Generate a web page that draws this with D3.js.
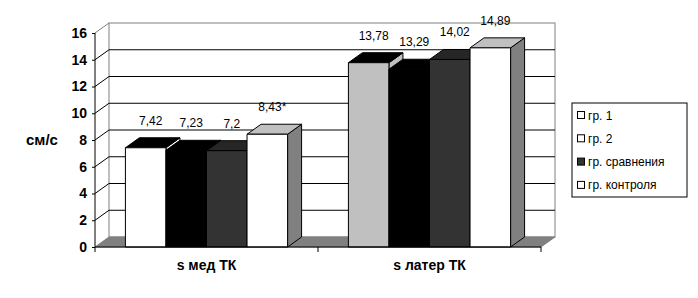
<!DOCTYPE html>
<html>
<head>
<meta charset="utf-8">
<script src="https://cdn.jsdelivr.net/npm/d3@7/dist/d3.min.js"></script>
<style>
  body { margin: 0; background: #fff; }
  svg { display: block; font-family: Arial, "Liberation Sans", sans-serif; }
</style>
</head>
<body>
<div id="chart"></div>
<script>
"use strict";

// data
const categories = ["s мед ТК", "s латер ТК"];
const seriesNames = ["гр. 1", "гр. 2", "гр. сравнения", "гр. контроля"];
const gr1 = [7.42, 13.78];
const gr2 = [7.23, 13.29];
const grCompare = [7.2, 14.02];
const grControl = [8.43, 14.89];
const controlMarks = ["*", ""];
const yTicks = [0, 2, 4, 6, 8, 10, 12, 14, 16];
const yTitle = "см/с";

const series = [gr1, gr2, grCompare, grControl];
const marks = [["", ""], ["", ""], ["", ""], controlMarks];

// face colours (front / top / side) per series, per category
const faces = [
    [{ front: "#ffffff", top: "#000000", side: "#ffffff" }, { front: "#c0c0c0", top: "#000000", side: "#c0c0c0" }],
    [{ front: "#000000", top: "#000000", side: "#000000" }, { front: "#000000", top: "#000000", side: "#000000" }],
    [{ front: "#333333", top: "#262626", side: "#333333" }, { front: "#333333", top: "#262626", side: "#333333" }],
    [{ front: "#ffffff", top: "#c0c0c0", side: "#808080" }, { front: "#ffffff", top: "#c0c0c0", side: "#808080" }]
];
const legendSwatch = ["#ffffff", "#ffffff", "#333333", "#ffffff"];

const width = 698, height = 298;
const plotLeft = 95, plotRight = 541, plotBottom = 247, plotTop = 33;
const dx = 14, dy = -10; // depth offset

const svg = d3.select("#chart").append("svg")
    .attr("width", width)
    .attr("height", height);

const x = d3.scaleBand().domain(categories).range([plotLeft, plotRight]);
const xs = d3.scaleBand().domain(seriesNames).range([0, x.bandwidth()])
    .paddingInner(0).paddingOuter(0.75);
const y = d3.scaleLinear().domain([0, 16]).range([plotBottom, plotTop]);

const pts = p => p.map(d => d.join(",")).join(" ");

// back wall
svg.append("rect")
    .attr("x", plotLeft + dx).attr("y", y(16) + dy)
    .attr("width", plotRight - plotLeft).attr("height", y(0) - y(16))
    .attr("fill", "#fff").attr("stroke", "#808080");

// left wall outline (top edge)
svg.append("line")
    .attr("x1", plotLeft).attr("y1", y(16))
    .attr("x2", plotLeft + dx).attr("y2", y(16) + dy)
    .attr("stroke", "#808080");

// gridlines: left wall diagonal + back wall horizontal
const grid = svg.append("g").attr("stroke", "#000").attr("fill", "none");
yTicks.filter(t => t > 0 && t < 16).forEach(t => {
    grid.append("polyline")
        .attr("points", pts([[plotLeft, y(t)], [plotLeft + dx, y(t) + dy], [plotRight + dx, y(t) + dy]]));
});

// floor
svg.append("polygon")
    .attr("points", pts([[plotLeft, y(0)], [plotRight, y(0)], [plotRight + dx, y(0) + dy], [plotLeft + dx, y(0) + dy]]))
    .attr("fill", "#808080").attr("stroke", "#808080");

// bars
const barsG = svg.append("g").attr("stroke", "#000").attr("stroke-width", 1).attr("stroke-linejoin", "round");
categories.forEach((cat, ci) => {
    seriesNames.forEach((name, si) => {
        const v = series[si][ci];
        const x0 = x(cat) + xs(name), x1 = x0 + xs.bandwidth();
        const y0 = y(0), y1 = y(v);
        const c = faces[si][ci];
        barsG.append("polygon").attr("fill", c.side)
            .attr("points", pts([[x1, y0], [x1 + dx, y0 + dy], [x1 + dx, y1 + dy], [x1, y1]]));
        barsG.append("polygon").attr("fill", c.top)
            .attr("points", pts([[x0, y1], [x1, y1], [x1 + dx, y1 + dy], [x0 + dx, y1 + dy]]));
        barsG.append("polygon").attr("fill", c.front)
            .attr("points", pts([[x0, y0], [x1, y0], [x1, y1], [x0, y1]]));
    });
});

// value labels
const fmt = v => String(v).replace(".", ",");
categories.forEach((cat, ci) => {
    seriesNames.forEach((name, si) => {
        const v = series[si][ci];
        svg.append("text")
            .attr("x", x(cat) + xs(name) + xs.bandwidth() / 2 + 5)
            .attr("y", y(v) - 23)
            .attr("text-anchor", "middle")
            .attr("font-size", 12)
            .attr("fill", "#000")
            .text(fmt(v) + marks[si][ci]);
    });
});

// y axis
const yAxis = svg.append("g")
    .attr("transform", `translate(${plotLeft},0)`)
    .call(d3.axisLeft(y).tickValues(yTicks).tickSize(3).tickPadding(5).tickFormat(d3.format("d")));
yAxis.select(".domain").attr("stroke", "#000").attr("d", `M0,${y(16)}V${y(0)}`);
yAxis.selectAll(".tick text").attr("font-size", 14).attr("font-weight", "bold")
    .attr("font-family", "Arial, 'Liberation Sans', sans-serif").attr("fill", "#000");

svg.append("text")
    .attr("x", 26).attr("y", 145)
    .attr("font-size", 15).attr("font-weight", "bold")
    .text(yTitle);

// x axis
const xAxis = svg.append("g")
    .attr("transform", `translate(0,${plotBottom})`)
    .call(d3.axisBottom(x).tickSize(0).tickPadding(13));
xAxis.select(".domain").attr("stroke", "#000").attr("d", `M${plotLeft},0H${plotRight}`);
xAxis.selectAll(".tick text").attr("font-size", 14).attr("font-weight", "bold")
    .attr("font-family", "Arial, 'Liberation Sans', sans-serif").attr("fill", "#000");
[plotLeft, x(categories[1]), plotRight].forEach(t => {
    xAxis.append("line").attr("x1", t).attr("x2", t).attr("y1", 0).attr("y2", 5).attr("stroke", "#000");
});

// legend
const lg = svg.append("g").attr("transform", "translate(572,103)");
lg.append("rect").attr("width", 115).attr("height", 94).attr("fill", "#fff").attr("stroke", "#000");
seriesNames.forEach((name, i) => {
    const row = lg.append("g").attr("transform", `translate(5,${12 + i * 23.3})`);
    row.append("rect").attr("x", 0.5).attr("y", -3.5).attr("width", 7).attr("height", 7)
        .attr("fill", legendSwatch[i]).attr("stroke", "#000");
    row.append("text").attr("x", 11).attr("y", 4.5).attr("font-size", 12).text(name);
});
</script>
</body>
</html>
